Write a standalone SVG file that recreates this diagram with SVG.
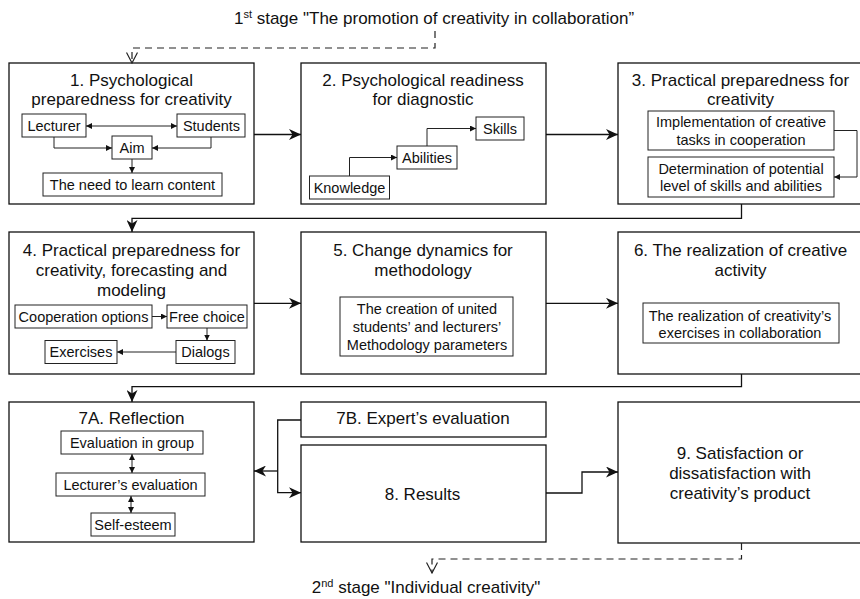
<svg xmlns="http://www.w3.org/2000/svg" width="860" height="599" viewBox="0 0 860 599">
<defs>
<style>
.box{fill:#fff;stroke:#111;stroke-width:1.3}
.ibox{fill:#fff;stroke:#222;stroke-width:1}
.t{font-family:"Liberation Sans",Arial,sans-serif;font-size:17px;fill:#111;text-anchor:middle}
.s{font-family:"Liberation Sans",Arial,sans-serif;font-size:14.5px;fill:#111;text-anchor:middle}
.c{fill:none;stroke:#111;stroke-width:1.3}
.ci{fill:none;stroke:#222;stroke-width:1}
.d{fill:none;stroke:#222;stroke-width:1.2;stroke-dasharray:7 5}
</style>
<marker id="big" viewBox="0 0 12 11" refX="12" refY="5.5" markerWidth="12" markerHeight="11" markerUnits="userSpaceOnUse" orient="auto">
<path d="M0,0 L12,5.5 L0,11 L3.5,5.5 Z" fill="#111"/>
</marker>
<marker id="sm" viewBox="0 0 6 6" refX="6" refY="3" markerWidth="6" markerHeight="6" markerUnits="userSpaceOnUse" orient="auto-start-reverse">
<path d="M0,0 L6,3 L0,6 Z" fill="#111"/>
</marker>
<marker id="open" viewBox="0 0 12 12" refX="11" refY="6" markerWidth="12" markerHeight="12" markerUnits="userSpaceOnUse" orient="auto">
<path d="M0.5,0.5 L11,6 L0.5,11.5" fill="none" stroke="#222" stroke-width="1.2"/>
</marker>
</defs>
<rect width="860" height="599" fill="#fff"/>

<g id="stage1">
<text class="t" x="434" y="24">1<tspan font-size="11" dy="-6">st</tspan><tspan dy="6"> stage "The promotion of creativity in collaboration”</tspan></text>
</g>
<g id="stage2">
<text class="t" x="426" y="593">2<tspan font-size="11" dy="-6">nd</tspan><tspan dy="6"> stage "Individual creativity"</tspan></text>
</g>

<g id="node1">
<rect class="box" x="9" y="63" width="245" height="141"/>
<text class="t" x="131.5" y="85.5">1. Psychological</text>
<text class="t" x="131.5" y="105">preparedness for creativity</text>
<g id="n1-lecturer"><rect class="ibox" x="22" y="114" width="64" height="23"/><text class="s" x="54" y="130.7">Lecturer</text></g>
<g id="n1-students"><rect class="ibox" x="177" y="114" width="68" height="23"/><text class="s" x="211.5" y="130.7">Students</text></g>
<g id="n1-aim"><rect class="ibox" x="112" y="136" width="40" height="23"/><text class="s" x="132" y="152.7">Aim</text></g>
<g id="n1-need"><rect class="ibox" x="43" y="173" width="179" height="23"/><text class="s" x="132.5" y="189.5">The need to learn content</text></g>
</g>

<g id="node2">
<rect class="box" x="301" y="63" width="245" height="141"/>
<text class="t" x="423" y="85.5">2. Psychological readiness</text>
<text class="t" x="423" y="105">for diagnostic</text>
<g id="n2-skills"><rect class="ibox" x="476" y="117" width="48" height="23"/><text class="s" x="500" y="133.5">Skills</text></g>
<g id="n2-abilities"><rect class="ibox" x="397" y="146" width="60" height="23"/><text class="s" x="427" y="162.7">Abilities</text></g>
<g id="n2-knowledge"><rect class="ibox" x="309.5" y="176" width="80" height="23"/><text class="s" x="349.5" y="192.7">Knowledge</text></g>
</g>

<g id="node3">
<rect class="box" x="618" y="63" width="245" height="141"/>
<text class="t" x="740.5" y="85.5">3. Practical preparedness for</text>
<text class="t" x="740.5" y="105">creativity</text>
<g id="n3-impl"><rect class="ibox" x="648" y="111" width="186" height="39"/><text class="s" x="741" y="127">Implementation of creative</text><text class="s" x="741" y="144.5">tasks in cooperation</text></g>
<g id="n3-det"><rect class="ibox" x="648" y="157" width="186" height="40"/><text class="s" x="741" y="173.5">Determination of potential</text><text class="s" x="741" y="191">level of skills and abilities</text></g>
</g>

<g id="node4">
<rect class="box" x="9" y="232" width="245" height="142"/>
<text class="t" x="131.5" y="255.5">4. Practical preparedness for</text>
<text class="t" x="131.5" y="275.5">creativity, forecasting and</text>
<text class="t" x="131.5" y="295.5">modeling</text>
<g id="n4-coop"><rect class="ibox" x="15" y="305" width="137" height="23"/><text class="s" x="83.5" y="321.7">Cooperation options</text></g>
<g id="n4-free"><rect class="ibox" x="167" y="305" width="80" height="23"/><text class="s" x="207" y="321.7">Free choice</text></g>
<g id="n4-dialogs"><rect class="ibox" x="176" y="340.5" width="59" height="23"/><text class="s" x="205.5" y="357.2">Dialogs</text></g>
<g id="n4-exercises"><rect class="ibox" x="45" y="340.5" width="72" height="23"/><text class="s" x="81" y="357.2">Exercises</text></g>
</g>

<g id="node5">
<rect class="box" x="301" y="232" width="245" height="142"/>
<text class="t" x="423" y="255.5">5. Change dynamics for</text>
<text class="t" x="423" y="275.5">methodology</text>
<g id="n5-inner"><rect class="ibox" x="340" y="297" width="173" height="59"/>
<text class="s" x="427" y="313.5">The creation of united</text>
<text class="s" x="427" y="331.5">students’ and lecturers’</text>
<text class="s" x="427" y="349.5">Methodology parameters</text></g>
</g>

<g id="node6">
<rect class="box" x="618" y="232" width="245" height="142"/>
<text class="t" x="740.5" y="255.5">6. The realization of creative</text>
<text class="t" x="740.5" y="275.5">activity</text>
<g id="n6-inner"><rect class="ibox" x="643" y="303" width="196" height="40"/>
<text class="s" x="740" y="320.5">The realization of creativity’s</text>
<text class="s" x="740" y="338">exercises in collaboration</text></g>
</g>

<g id="node7a">
<rect class="box" x="9" y="402" width="245" height="140"/>
<text class="t" x="131.5" y="424">7A. Reflection</text>
<g id="n7a-group"><rect class="ibox" x="61" y="431" width="142" height="23"/><text class="s" x="132" y="447.7">Evaluation in group</text></g>
<g id="n7a-lect"><rect class="ibox" x="56" y="473" width="149" height="23"/><text class="s" x="130.5" y="489.7">Lecturer’s evaluation</text></g>
<g id="n7a-self"><rect class="ibox" x="91" y="513" width="84" height="23"/><text class="s" x="133" y="529.7">Self-esteem</text></g>
</g>

<g id="node7b">
<rect class="box" x="301" y="402" width="245" height="35"/>
<text class="t" x="423" y="423.5">7B. Expert’s evaluation</text>
</g>

<g id="node8">
<rect class="box" x="301" y="445" width="245" height="97"/>
<text class="t" x="422.5" y="499.5">8. Results</text>
</g>

<g id="node9">
<rect class="box" x="618" y="402" width="245" height="141"/>
<text class="t" x="740" y="458.5">9. Satisfaction or</text>
<text class="t" x="740" y="478.5">dissatisfaction with</text>
<text class="t" x="740" y="498.5">creativity’s product</text>
</g>

<g id="connectors">
<path class="d" d="M435 31 V48 H132 V63" marker-end="url(#open)"/>
<path class="d" d="M741.5 543 V559 H432 V573" marker-end="url(#open)"/>
<path class="c" d="M254 134.5 H301" marker-end="url(#big)"/>
<path class="c" d="M546 134.5 H618" marker-end="url(#big)"/>
<path class="c" d="M741.5 204 V218.3 H132 V232" marker-end="url(#big)"/>
<path class="c" d="M254 303.3 H301" marker-end="url(#big)"/>
<path class="c" d="M546 303.3 H618" marker-end="url(#big)"/>
<path class="c" d="M741.5 374 V386.7 H132 V402" marker-end="url(#big)"/>
<path class="c" d="M301 420 H277.7 V492.7 H301" marker-end="url(#big)"/>
<path class="c" d="M277.7 471 H254" marker-end="url(#big)"/>
<path class="c" d="M546 493 H582 V472 H618" marker-end="url(#big)"/>
<path class="ci" d="M86 126 H177" marker-start="url(#sm)" marker-end="url(#sm)"/>
<path class="ci" d="M54 137 V148 H112" marker-end="url(#sm)"/>
<path class="ci" d="M211 137 V148 H152" marker-end="url(#sm)"/>
<path class="ci" d="M132 159 V173" marker-end="url(#sm)"/>
<path class="ci" d="M349.5 176 V157.5 H397" marker-end="url(#sm)"/>
<path class="ci" d="M427 146 V128.5 H476" marker-end="url(#sm)"/>
<path class="ci" d="M834 130.5 H857 V177 H834" marker-end="url(#sm)"/>
<path class="ci" d="M152 316.5 H167" marker-end="url(#sm)"/>
<path class="ci" d="M207 328 V340.5" marker-end="url(#sm)"/>
<path class="ci" d="M176 352 H117" marker-end="url(#sm)"/>
<path class="ci" d="M132 454 V473" marker-start="url(#sm)" marker-end="url(#sm)"/>
<path class="ci" d="M131 496 V513" marker-start="url(#sm)" marker-end="url(#sm)"/>
</g>
</svg>
